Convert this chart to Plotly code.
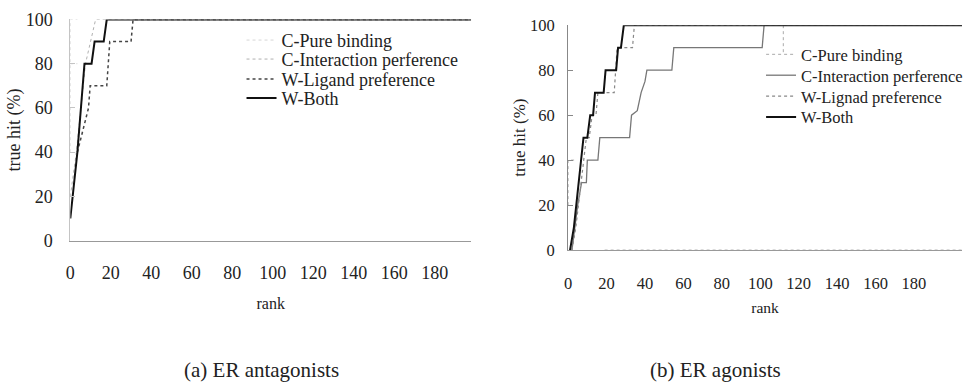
import plotly.graph_objects as go

# ---------------- data ----------------
# (a) ER antagonists
a_pure_x = [0, 0, 3.5, None, 0, 3.5]
a_pure_y = [40, 100, 100, None, 80, 80]
a_inter_x = [0, 3, 7.5, 12.5, 198]
a_inter_y = [20, 40, 80, 100, 100]
a_lig_x = [3.5, 9, 9.8, 18, 19.5, 30, 31, 198]
a_lig_y = [40, 60, 70, 70, 90, 90, 100, 100]
a_both_x = [0, 3.5, 7, 10.5, 12, 16.5, 18, 198]
a_both_y = [10, 40, 80, 80, 90, 90, 100, 100]

# (b) ER agonists
b_pure_x = [0, 0, 4, None, 19, 205, None, 112, 112]
b_pure_y = [20, 40, 40, None, 0, 0, None, 88, 100]
b_inter_x = [2, 5, 7, 9.5, 10, 15.5, 16.5, 32, 33, 36, 38, 40, 41, 54, 55, 101, 102, 205]
b_inter_y = [0, 20, 30, 30, 40, 40, 50, 50, 60, 62, 70, 75, 80, 80, 90, 90, 100, 100]
b_lig_x = [2, 4, 9.5, 11, 12.5, 14.5, 15.5, 24, 25.5, 27, 33.5, 34.5, 205]
b_lig_y = [0, 10, 50, 50, 60, 60, 70, 70, 90, 90, 90, 100, 100]
b_both_x = [1, 3, 8, 10, 11.5, 13, 14, 18.5, 19.5, 25, 26, 27.5, 29, 205]
b_both_y = [0, 10, 50, 50, 60, 60, 70, 70, 80, 80, 90, 90, 100, 100]

x_ticks = [0, 20, 40, 60, 80, 100, 120, 140, 160, 180]
y_ticks = [0, 20, 40, 60, 80, 100]

names_a = ["C-Pure binding", "C-Interaction perference", "W-Ligand preference", "W-Both"]
names_b = ["C-Pure binding", "C-Interaction perference", "W-Lignad preference", "W-Both"]
caption_a = "(a) ER antagonists"
caption_b = "(b) ER agonists"

FONT = "Liberation Serif, Times New Roman, Times, serif"
W, H = 968, 392

fig = go.Figure()
legends = {}

# legend rows (pixel positions): legend left edge and row centre
LEG_A_X, LEG_A_ROWS = 240, [32, 52, 73, 93]
LEG_B_X, LEG_B_ROWS = 765, [47, 69, 91, 113]

def add(x, y, name, color, width, dash, xa, ya, idx, lx, ly, fsize):
    key = "legend" if idx == 1 else "legend%d" % idx
    fig.add_trace(go.Scatter(x=x, y=y, name=name, mode="lines",
                             line=dict(color=color, width=width, dash=dash),
                             xaxis=xa, yaxis=ya, legend=key, cliponaxis=False,
                             connectgaps=False, hoverinfo="skip"))
    legends[key] = dict(x=lx / W, y=1 - ly / H, xanchor="left", yanchor="middle",
                        bgcolor="rgba(0,0,0,0)", borderwidth=0, itemwidth=30,
                        font=dict(family=FONT, size=fsize, color="#222"))

add(a_pure_x, a_pure_y, names_a[0], "#d6d6d6", 1.0, "dot", "x", "y", 1, LEG_A_X, LEG_A_ROWS[0], 18)
add(a_inter_x, a_inter_y, names_a[1], "#b0b0b0", 1.0, "dot", "x", "y", 2, LEG_A_X, LEG_A_ROWS[1], 18)
add(a_lig_x, a_lig_y, names_a[2], "#444444", 1.5, "dot", "x", "y", 3, LEG_A_X, LEG_A_ROWS[2], 18)
add(a_both_x, a_both_y, names_a[3], "#111111", 2.0, "solid", "x", "y", 4, LEG_A_X, LEG_A_ROWS[3], 18)

add(b_pure_x, b_pure_y, names_b[0], "#aaaaaa", 1.0, "dot", "x2", "y2", 5, LEG_B_X, LEG_B_ROWS[0], 16.5)
add(b_inter_x, b_inter_y, names_b[1], "#777777", 1.3, "solid", "x2", "y2", 6, LEG_B_X, LEG_B_ROWS[1], 16.5)
add(b_lig_x, b_lig_y, names_b[2], "#888888", 1.2, "dot", "x2", "y2", 7, LEG_B_X, LEG_B_ROWS[2], 16.5)
add(b_both_x, b_both_y, names_b[3], "#111111", 2.0, "solid", "x2", "y2", 8, LEG_B_X, LEG_B_ROWS[3], 16.5)

tick_a = dict(family=FONT, size=18, color="#222")
tick_b = dict(family=FONT, size=16.5, color="#222")

fig.update_layout(
    width=W, height=H, margin=dict(l=0, r=0, t=0, b=0),
    paper_bgcolor="white", plot_bgcolor="white", showlegend=True,
    font=dict(family=FONT, color="#222"),
    xaxis=dict(domain=[67 / W, 472 / W], range=[0, 198], tickvals=x_ticks,
               showgrid=False, zeroline=False, showline=True, linecolor="#999",
               linewidth=1, ticks="", ticklabelstandoff=16, tickfont=tick_a,
               title=dict(text="rank", font=dict(family=FONT, size=16), standoff=15),
               anchor="y"),
    yaxis=dict(domain=[1 - 243 / H, 1 - 10 / H], range=[0, 100], tickvals=y_ticks,
               showgrid=False, zeroline=False, showline=True, linecolor="#c4c4c4",
               linewidth=1, ticks="inside", ticklen=5, tickcolor="#c4c4c4",
               ticklabelstandoff=13, tickfont=tick_a,
               title=dict(text="true hit (%)", font=dict(family=FONT, size=18), standoff=0),
               anchor="x"),
    xaxis2=dict(domain=[570 / W, 1.0], range=[0, 205], tickvals=x_ticks,
                showgrid=False, zeroline=False, showline=True, linecolor="#999",
                linewidth=1, ticks="", ticklabelstandoff=18, tickfont=tick_b,
                title=dict(text="rank", font=dict(family=FONT, size=15.5), standoff=10),
                anchor="y2"),
    yaxis2=dict(domain=[1 - 253 / H, 1 - 16 / H], range=[0, 100], tickvals=y_ticks,
                showgrid=False, zeroline=False, showline=True, linecolor="#888",
                linewidth=1, ticks="inside", ticklen=5, tickcolor="#888",
                ticklabelstandoff=9, tickfont=tick_b,
                title=dict(text="true hit (%)", font=dict(family=FONT, size=17), standoff=0),
                anchor="x2"),
    annotations=[
        dict(text=caption_a, x=260 / W, y=1 - 379 / H, xref="paper", yref="paper",
             xanchor="center", yanchor="middle", showarrow=False,
             font=dict(family=FONT, size=21, color="#222")),
        dict(text=caption_b, x=719 / W, y=1 - 379 / H, xref="paper", yref="paper",
             xanchor="center", yanchor="middle", showarrow=False,
             font=dict(family=FONT, size=21, color="#222")),
    ],
    **legends,
)

fig.write_html("out.html", config={"displayModeBar": False},
               post_script="document.body.style.margin='0px';document.body.style.overflow='hidden';")
